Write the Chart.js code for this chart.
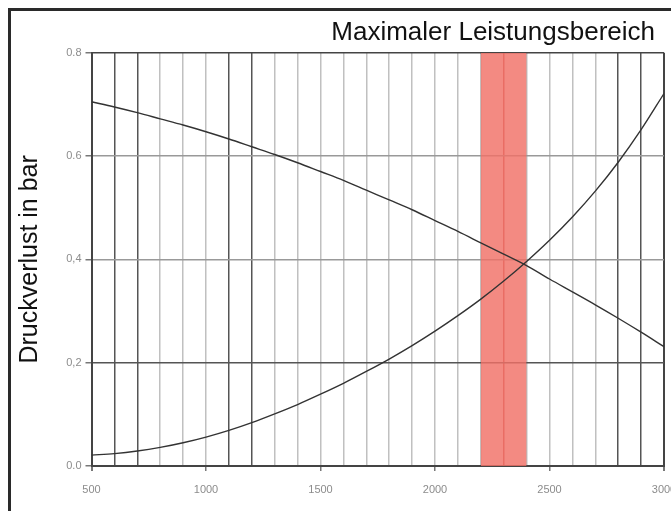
<!DOCTYPE html>
<html>
<head>
<meta charset="utf-8">
<script src="https://cdn.jsdelivr.net/npm/chart.js@4/dist/chart.umd.min.js"></script>
<style>
  html, body { margin: 0; padding: 0; background: #fff; overflow: hidden; }
  #wrap { position: relative; width: 671px; height: 511px; }
  #frame { position: absolute; left: 8px; top: 8px; width: 720px; height: 560px;
           border-left: 3px solid #2a2a2a; border-top: 3px solid #2a2a2a; box-sizing: border-box; }
  canvas { position: absolute; left: 0; top: 0; }
</style>
</head>
<body>
<div id="wrap">
  <div id="frame"></div>
  <canvas id="c" width="671" height="511"></canvas>
</div>
<script>
// ---- data ----
const flowValues = [500, 600, 700, 800, 900, 1000, 1100, 1200, 1300, 1400, 1500, 1600, 1700,
                    1800, 1900, 2000, 2100, 2200, 2300, 2400, 2500, 2600, 2700, 2800, 2900, 3000];
const pumpCurve = [0.705, 0.695, 0.684, 0.672, 0.660, 0.647, 0.633, 0.618, 0.603, 0.587, 0.570,
                   0.553, 0.534, 0.515, 0.496, 0.475, 0.454, 0.432, 0.410, 0.388, 0.362, 0.337,
                   0.312, 0.286, 0.259, 0.231];
const systemCurve = [0.021, 0.024, 0.029, 0.036, 0.045, 0.056, 0.069, 0.084, 0.101, 0.119, 0.139,
                     0.160, 0.183, 0.207, 0.233, 0.261, 0.291, 0.323, 0.358, 0.396, 0.437, 0.482,
                     0.532, 0.588, 0.651, 0.721];
const bandRange = [2200, 2400];
const bandTop = 0.8;
const xTickLabels = { 500: '500', 1000: '1000', 1500: '1500', 2000: '2000', 2500: '2500', 3000: '3000' };
const yTickLabels = { '0.0': '0.0', '0.2': '0,2', '0.4': '0,4', '0.6': '0.6', '0.8': '0.8' };
const darkVerticals = [600, 700, 1100, 1200, 2800, 2900];
const yAxisTitle = 'Druckverlust in bar';
const bandLabel = 'Maximaler Leistungsbereich';

const toXY = (ys) => flowValues.map((x, i) => ({ x, y: ys[i] }));

const textPlugin = {
  id: 'bandLabel',
  afterDraw(chart) {
    const ctx = chart.ctx;
    ctx.save();
    ctx.font = '26px "Liberation Sans", Arial, sans-serif';
    ctx.fillStyle = '#111';
    ctx.textAlign = 'right';
    ctx.textBaseline = 'alphabetic';
    ctx.fillText(bandLabel, 655, 40);
    ctx.restore();
  }
};

new Chart(document.getElementById('c'), {
  type: 'line',
  data: {
    datasets: [
      {
        label: 'Pumpe',
        data: toXY(pumpCurve),
        borderColor: '#333',
        borderWidth: 1.4,
        pointRadius: 0,
        cubicInterpolationMode: 'monotone',
        fill: false,
        order: 1
      },
      {
        label: 'Anlage',
        data: toXY(systemCurve),
        borderColor: '#333',
        borderWidth: 1.4,
        pointRadius: 0,
        cubicInterpolationMode: 'monotone',
        fill: false,
        order: 1
      },
      {
        label: bandLabel,
        data: [{ x: bandRange[0], y: bandTop }, { x: bandRange[1], y: bandTop }],
        borderWidth: 0,
        borderColor: 'rgba(0,0,0,0)',
        backgroundColor: 'rgba(240,112,102,0.82)',
        pointRadius: 0,
        fill: 'origin',
        order: 2
      }
    ]
  },
  options: {
    responsive: false,
    animation: false,
    layout: { autoPadding: false, padding: { left: 0, top: 52.7, right: 7, bottom: 0 } },
    plugins: { legend: { display: false }, tooltip: { enabled: false }, title: { display: false } },
    scales: {
      x: {
        type: 'linear',
        min: 500,
        max: 3000,
        afterFit: (s) => { s.height = 45; s.paddingLeft = 0; s.paddingRight = 0; },
        ticks: {
          stepSize: 100,
          autoSkip: false,
          maxRotation: 0,
          padding: 12,
          color: '#8c8c8c',
          font: { family: '"Liberation Sans", Arial, sans-serif', size: 11 },
          callback: (v) => xTickLabels[v] || ''
        },
        border: { display: true, color: '#444', width: 2 },
        grid: {
          drawTicks: true,
          tickLength: 5,
          tickColor: (c) => (c.tick && xTickLabels[c.tick.value]) ? '#777' : 'rgba(0,0,0,0)',
          lineWidth: (c) => {
            const v = c.tick ? c.tick.value : 0;
            return (v === 500 || v === 3000) ? 2 : 1.5;
          },
          color: (c) => {
            const v = c.tick ? c.tick.value : 0;
            if (v === 500 || v === 3000) return '#444';
            if (darkVerticals.includes(v)) return '#555';
            if (v > bandRange[0] && v < bandRange[1]) return '#c9605a';
            return '#c0c0c0';
          }
        }
      },
      y: {
        min: 0,
        max: 0.8,
        afterFit: (s) => { s.width = 91.5; s.paddingTop = 0; s.paddingBottom = 0; },
        ticks: {
          stepSize: 0.2,
          padding: 4,
          color: '#8c8c8c',
          font: { family: '"Liberation Sans", Arial, sans-serif', size: 11 },
          callback: (v) => yTickLabels[Number(v).toFixed(1)] || ''
        },
        title: {
          display: true,
          text: yAxisTitle,
          color: '#111',
          padding: { top: 15, bottom: 0 },
          font: { family: '"Liberation Sans", Arial, sans-serif', size: 25 }
        },
        border: { display: true, color: '#444', width: 2 },
        grid: {
          tickLength: 6,
          tickColor: '#777',
          lineWidth: 1.5,
          color: (c) => {
            const v = c.tick ? Math.round(c.tick.value * 10) / 10 : 0;
            if (v === 0 || v === 0.8) return '#444';
            if (v === 0.2) return '#555';
            return '#999';
          }
        }
      }
    }
  },
  plugins: [textPlugin]
});
</script>
</body>
</html>
